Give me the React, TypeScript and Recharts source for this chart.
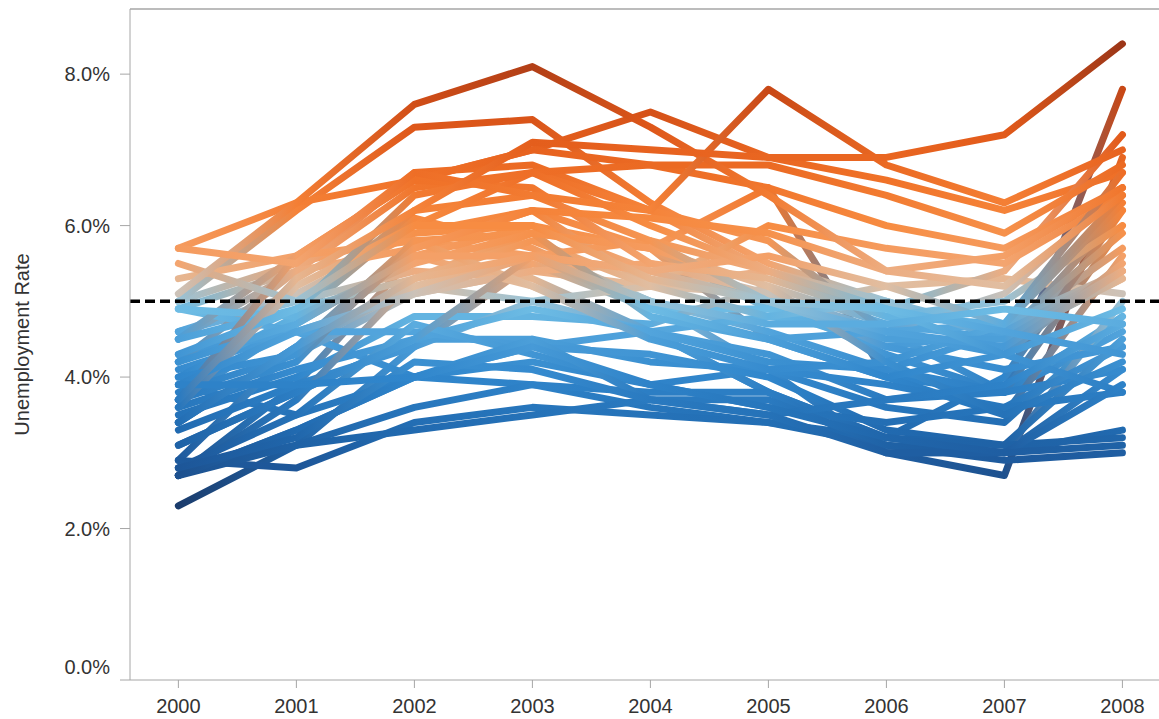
import { LineChart, Line, XAxis, YAxis, ReferenceLine } from 'recharts';

const years = [2000, 2001, 2002, 2003, 2004, 2005, 2006, 2007, 2008];
const yTicks = [0, 2, 4, 6, 8];
const target = 5;

// unemployment rate (%) per state, 2000 -> 2008
const alabama = [4.6, 5.1, 5.9, 6.0, 5.7, 4.5, 4.0, 3.5, 5.6];
const alaska = [5.3, 5.6, 6.6, 7.0, 7.5, 6.9, 6.6, 6.2, 6.7];
const arizona = [4.0, 4.8, 6.1, 5.7, 5.0, 4.6, 4.1, 3.8, 6.0];
const arkansas = [4.2, 4.9, 5.3, 5.9, 5.7, 4.9, 5.2, 5.3, 5.1];
const california = [4.9, 5.4, 6.7, 6.8, 6.2, 5.4, 4.9, 5.4, 7.2];
const colorado = [2.7, 3.9, 5.6, 6.0, 5.4, 5.0, 4.3, 3.8, 4.8];
const connecticut = [2.3, 3.1, 4.4, 5.5, 4.9, 4.9, 4.4, 4.6, 5.7];
const delaware = [3.9, 3.5, 4.0, 4.2, 3.9, 4.1, 3.6, 3.4, 4.8];
const dc = [5.7, 6.3, 6.6, 7.0, 6.8, 6.5, 6.0, 5.7, 6.5];
const florida = [3.7, 4.7, 5.6, 5.2, 4.6, 3.8, 3.2, 4.0, 6.2];
const georgia = [3.5, 4.0, 4.8, 4.8, 4.7, 5.2, 4.7, 4.5, 6.2];
const hawaii = [4.3, 4.6, 4.0, 3.9, 3.6, 3.4, 3.1, 3.0, 4.1];
const idaho = [4.6, 5.0, 5.4, 5.3, 4.6, 3.8, 3.2, 3.0, 5.0];
const illinois = [4.5, 5.4, 6.5, 6.7, 6.2, 5.8, 4.6, 5.1, 6.5];
const indiana = [2.9, 4.4, 5.2, 5.0, 5.2, 5.4, 5.0, 4.6, 5.9];
const iowa = [2.7, 3.3, 4.0, 4.4, 4.6, 4.3, 3.7, 3.8, 4.1];
const kansas = [3.8, 4.3, 5.1, 5.4, 5.5, 5.1, 4.4, 4.1, 4.4];
const kentucky = [4.2, 5.4, 5.7, 6.2, 5.2, 6.0, 5.7, 5.5, 6.4];
const louisiana = [5.0, 5.5, 5.9, 6.2, 5.7, 6.5, 4.0, 3.8, 4.6];
const maine = [3.3, 3.9, 4.4, 5.0, 4.6, 4.8, 4.6, 4.7, 5.4];
const maryland = [3.6, 4.1, 4.5, 4.5, 4.2, 4.1, 3.9, 3.6, 4.4];
const massachusetts = [2.7, 3.7, 5.3, 5.8, 5.2, 4.8, 5.0, 4.5, 5.3];
const michigan = [3.7, 5.3, 6.2, 7.1, 7.0, 6.9, 6.9, 7.2, 8.4];
const minnesota = [3.1, 3.8, 4.5, 4.9, 4.6, 4.2, 4.1, 4.6, 5.4];
const mississippi = [5.7, 5.5, 6.7, 6.4, 6.2, 7.8, 6.8, 6.3, 7.0];
const missouri = [3.4, 4.4, 5.2, 5.6, 5.8, 5.4, 4.8, 5.0, 6.0];
const montana = [4.9, 4.6, 4.6, 4.4, 4.3, 4.0, 3.3, 3.1, 4.5];
const nebraska = [2.8, 3.1, 3.6, 3.9, 3.8, 3.8, 3.0, 3.0, 3.3];
const nevada = [4.5, 5.6, 5.8, 5.2, 4.5, 4.1, 4.2, 4.7, 6.7];
const newHampshire = [2.8, 3.5, 4.7, 4.3, 3.9, 3.6, 3.4, 3.6, 3.8];
const newJersey = [3.7, 4.2, 5.8, 5.9, 4.8, 4.5, 4.6, 4.3, 5.5];
const newMexico = [4.9, 4.8, 5.5, 5.9, 5.7, 5.2, 4.2, 3.5, 4.2];
const newYork = [4.5, 4.9, 6.2, 6.4, 5.8, 5.0, 4.5, 4.5, 5.4];
const northCarolina = [3.7, 5.6, 6.6, 6.5, 5.5, 5.3, 4.8, 4.7, 6.3];
const northDakota = [2.9, 2.8, 3.4, 3.6, 3.5, 3.4, 3.2, 3.1, 3.2];
const ohio = [4.0, 4.3, 5.7, 6.2, 6.1, 5.9, 5.4, 5.6, 6.5];
const oklahoma = [3.1, 3.8, 4.5, 5.6, 4.9, 4.5, 4.0, 4.3, 3.8];
const oregon = [5.1, 6.3, 7.6, 8.1, 7.3, 6.4, 5.4, 5.2, 6.4];
const pennsylvania = [4.2, 4.7, 5.6, 5.6, 5.4, 5.0, 4.6, 4.4, 5.4];
const rhodeIsland = [4.1, 4.6, 5.1, 5.4, 5.2, 5.1, 4.6, 3.8, 7.8];
const southCarolina = [3.6, 5.2, 6.0, 6.7, 6.8, 6.8, 6.4, 5.9, 6.8];
const southDakota = [2.7, 3.1, 3.3, 3.5, 3.7, 3.7, 3.1, 2.9, 3.0];
const tennessee = [3.9, 4.6, 5.1, 5.6, 5.4, 5.6, 5.2, 4.7, 6.4];
const texas = [4.3, 4.9, 6.4, 6.7, 6.0, 5.4, 4.9, 4.3, 4.9];
const utah = [3.4, 4.4, 5.8, 5.6, 5.0, 4.1, 3.0, 2.7, 6.9];
const vermont = [2.7, 3.3, 4.0, 4.5, 3.7, 3.5, 3.7, 3.9, 4.7];
const virginia = [2.8, 3.2, 4.2, 4.1, 3.7, 3.5, 3.0, 3.0, 3.9];
const washington = [5.0, 6.2, 7.3, 7.4, 6.3, 5.5, 5.0, 4.5, 5.3];
const westVirginia = [5.5, 5.0, 6.0, 6.0, 5.3, 5.0, 4.9, 4.6, 4.3];
const wisconsin = [3.4, 4.4, 5.3, 5.6, 5.0, 4.7, 4.7, 4.9, 4.7];
const wyoming = [3.9, 3.9, 4.0, 4.4, 3.9, 3.6, 3.2, 3.0, 3.1];

// drawing order: the states with big jumps sit underneath the rest
const states = [
  utah, louisiana, colorado, washington, rhodeIsland,
  alabama, alaska, arizona, arkansas, california, connecticut, delaware, dc,
  florida, georgia, hawaii, idaho, illinois, indiana, iowa, kansas, kentucky,
  maine, maryland, massachusetts, minnesota, missouri, montana,
  nebraska, nevada, newHampshire, newJersey, newMexico, newYork, northCarolina,
  northDakota, ohio, oklahoma, pennsylvania, southCarolina,
  southDakota, tennessee, texas, vermont, virginia, westVirginia,
  wisconsin, wyoming, oregon, mississippi, michigan,
];

const rows = years.map((year, i) => {
  const row: Record<string, number> = { year };
  states.forEach((vals, s) => {
    row['s' + s] = vals[i];
  });
  return row;
});

// diverging orange-blue ramp centred on 5%
const ramp: [number, number[]][] = [
  [2.3, [27, 60, 108]],
  [2.8, [29, 86, 152]],
  [3.3, [33, 106, 176]],
  [4.0, [48, 134, 204]],
  [4.6, [82, 164, 220]],
  [4.97, [116, 194, 230]],
  [5.03, [190, 196, 200]],
  [5.2, [224, 190, 162]],
  [5.5, [243, 165, 112]],
  [6.0, [247, 140, 66]],
  [6.6, [240, 114, 40]],
  [7.2, [226, 90, 26]],
  [7.8, [200, 72, 22]],
  [8.4, [156, 54, 24]],
];

function colorFor(v: number) {
  if (v <= ramp[0][0]) return `rgb(${ramp[0][1].join(',')})`;
  for (let i = 1; i < ramp.length; i++) {
    const [v1, c1] = ramp[i];
    if (v <= v1) {
      const [v0, c0] = ramp[i - 1];
      const t = (v - v0) / (v1 - v0);
      const c = c0.map((x, k) => Math.round(x + (c1[k] - x) * t));
      return `rgb(${c.join(',')})`;
    }
  }
  return `rgb(${ramp[ramp.length - 1][1].join(',')})`;
}

const font = '"Liberation Sans", Arial, sans-serif';
const axisGray = '#a6a6a6';
const textColor = '#333';

function YTick(props: any) {
  const { x, y, payload } = props;
  const shift = payload.value === 0 ? -13 : 0;
  return (
    <text x={x} y={y + shift} dy="0.355em" textAnchor="end" fontSize={20} fill={textColor} fontFamily={font}>
      {payload.value.toFixed(1) + '%'}
    </text>
  );
}

function YTitle(props: any) {
  const { viewBox } = props;
  const cx = viewBox.x + 22;
  const cy = viewBox.y + viewBox.height / 2;
  return (
    <text
      x={cx}
      y={cy}
      transform={`rotate(-90 ${cx} ${cy})`}
      textAnchor="middle"
      dominantBaseline="central"
      fontSize={20}
      fill={textColor}
      fontFamily={font}
    >
      Unemployment Rate
    </text>
  );
}

export default function App() {
  return (
    <div style={{ position: 'absolute', left: 0, top: 0, background: '#fff' }}>
      <LineChart width={1159} height={719} data={rows} margin={{ top: 9, right: 0, bottom: 0, left: 0 }}>
        <defs>
          {states.map((vals, s) => (
            <linearGradient key={s} id={'grad' + s} x1="0" y1="0" x2="1" y2="0">
              {vals.map((v, i) => (
                <stop key={i} offset={i / (vals.length - 1)} stopColor={colorFor(v)} />
              ))}
            </linearGradient>
          ))}
        </defs>
        <XAxis
          dataKey="year"
          type="number"
          domain={[1999.59, 2008.31]}
          ticks={years}
          allowDataOverflow
          height={39}
          tickSize={8}
          tickMargin={11}
          stroke={axisGray}
          tick={{ fontSize: 20, fill: textColor, fontFamily: font }}
        />
        <YAxis
          type="number"
          domain={[0, 8.86]}
          ticks={yTicks}
          allowDataOverflow
          width={130}
          tickSize={10}
          tickMargin={10}
          stroke={axisGray}
          tick={<YTick />}
          label={<YTitle />}
        />
        <ReferenceLine y={8.86} stroke={axisGray} strokeWidth={1.5} />
        {states.map((_, s) => (
          <Line
            key={s}
            dataKey={'s' + s}
            stroke={`url(#grad${s})`}
            strokeWidth={7}
            strokeLinecap="round"
            strokeLinejoin="round"
            dot={false}
            activeDot={false}
            isAnimationActive={false}
          />
        ))}
        <ReferenceLine y={target} stroke="#000" strokeWidth={3.5} strokeDasharray="10 5" />
      </LineChart>
    </div>
  );
}
